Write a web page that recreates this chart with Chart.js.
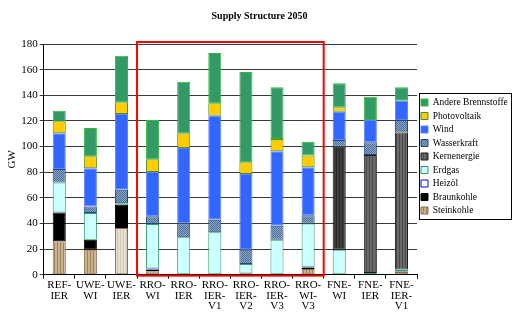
<!DOCTYPE html>
<html><head><meta charset="utf-8">
<script src="https://cdn.jsdelivr.net/npm/chart.js@4.4.1/dist/chart.umd.min.js"></script>
<style>html,body{margin:0;padding:0;background:#fff}#wrap{width:513px;height:313px}</style>
</head><body><div id="wrap"><canvas id="c" width="513" height="313"></canvas></div>
<script>
const categories = [["REF-","IER"],["UWE-","WI"],["UWE-","IER"],["RRO-","WI"],["RRO-","IER"],["RRO-","IER-","V1"],["RRO-","IER-","V2"],["RRO-","IER-","V3"],["RRO-","WI-","V3"],["FNE-","WI"],["FNE-","IER"],["FNE-","IER-","V1"]];
const steinkohle   = [26, 19.5, 36.4, 2.5, 0, 0, 0, 0, 4.4, 0, 0, 2];
const braunkohle   = [22.5, 7.8, 18.2, 1.5, 0, 0, 0.8, 0, 1.2, 0, 0, 0.4];
const heizoel      = [0, 0, 0, 0.8, 0, 0, 0, 0, 0.5, 0, 0, 0];
const erdgas       = [23.5, 20.8, 1.1, 34.7, 29.1, 33, 7.5, 27.3, 33.9, 19.5, 1.3, 1.6];
const kernenergie  = [0, 0, 0, 0, 0, 0, 0, 0, 0, 80.4, 92.1, 107];
const wasserkraft  = [10.5, 5, 10.6, 6, 10.9, 9.9, 11.2, 10.9, 6.3, 5.2, 9.9, 9.7];
const wind         = [27.8, 29.9, 59.1, 34.6, 58.9, 81.1, 59.1, 58.1, 37.5, 22.1, 17.4, 15.1];
const photovoltaik = [9.4, 9.4, 9.1, 9.9, 11.4, 9.7, 9.1, 9.6, 9.1, 3.4, 0, 0];
const andere       = [8.3, 22.1, 36.4, 30.7, 40.3, 39.3, 70.5, 40.3, 10.9, 18.7, 18.2, 10.4];
const yTicks = [0, 20, 40, 60, 80, 100, 120, 140, 160, 180];

const canvas = document.getElementById('c');
const ctx = canvas.getContext('2d');
function stripes(base, stripe, w) {
  const p = document.createElement('canvas'); p.width = w; p.height = 4;
  const g = p.getContext('2d'); g.fillStyle = base; g.fillRect(0,0,w,4);
  g.fillStyle = stripe; g.fillRect(0,0,1,4);
  return ctx.createPattern(p, 'repeat');
}
function checker(a, b) {
  const p = document.createElement('canvas'); p.width = 2; p.height = 2;
  const g = p.getContext('2d'); g.fillStyle = a; g.fillRect(0,0,2,2);
  g.fillStyle = b; g.fillRect(0,0,1,1); g.fillRect(1,1,1,1);
  return ctx.createPattern(p, 'repeat');
}
const steinPat = stripes('#c9b38e', '#9e8560', 3);
const steinLight = stripes('#e6ded0', '#d4c8b4', 3);
const kernPat = stripes('#6a6a6a', '#4a4a4a', 3);
const kernDark = stripes('#3c3c3c', '#2a2a2a', 3);
const wasserPat = checker('#8aa6c8', '#4d6d96');

const steinBg = categories.map((c,i)=> i===2 ? steinLight : steinPat);
const kernBg = categories.map((c,i)=> i===9 ? kernDark : kernPat);

const ds = (label, data, bg, border) => ({label, data, backgroundColor: bg, borderColor: border, borderWidth: 1, borderSkipped: false});

const redBox = {
  id: 'redBox',
  afterDatasetsDraw(chart) {
    const x = chart.scales.x, c = chart.ctx;
    const half = (x.getPixelForValue(1) - x.getPixelForValue(0)) / 2;
    const l = x.getPixelForValue(3) - half, r = x.getPixelForValue(8) + half;
    const t = chart.chartArea.top - 2, b = chart.chartArea.bottom + 1;
    c.save(); c.strokeStyle = '#ff0000'; c.lineWidth = 2;
    c.strokeRect(l, t, r - l, b - t); c.restore();
  },
  afterDraw(chart) {
    const hb = chart.legend.legendHitBoxes, c = chart.ctx;
    if (!hb || !hb.length) return;
    const x0 = Math.round(Math.min(...hb.map(h => h.left))) - 2;
    const y0 = Math.round(hb[0].top) - 5;
    const last = hb[hb.length - 1];
    const y1 = Math.round(last.top + last.height) + 4;
    const x1 = 511;
    c.save(); c.strokeStyle = '#000'; c.lineWidth = 1;
    c.strokeRect(x0 + 0.5, y0 + 0.5, x1 - x0, y1 - y0);
    c.restore();
  }
};

const serif = "'Liberation Serif', 'Times New Roman', serif";
new Chart(canvas, {
  type: 'bar',
  data: {
    labels: categories,
    datasets: [
      ds('Steinkohle', steinkohle, steinBg, '#8a6e4c'),
      ds('Braunkohle', braunkohle, '#000000', '#000000'),
      ds('Heizöl', heizoel, '#ffffff', '#0000ff'),
      ds('Erdgas', erdgas, '#ccffff', '#339966'),
      ds('Kernenergie', kernenergie, kernBg, '#1a1a1a'),
      ds('Wasserkraft', wasserkraft, wasserPat, '#1f4a7a'),
      ds('Wind', wind, '#3366ff', '#5c85ff'),
      ds('Photovoltaik', photovoltaik, '#ffcc00', '#4f8f1f'),
      ds('Andere Brennstoffe', andere, '#339966', '#33bb33')
    ]
  },
  options: {
    responsive: false, animation: false,
    layout: { padding: { left: 6, right: 0, top: 0, bottom: 0 } },
    datasets: { bar: { categoryPercentage: 1, barPercentage: 0.42 } },
    plugins: {
      title: { display: true, text: 'Supply Structure 2050', color: '#000', font: { family: serif, size: 10, weight: 'bold' }, padding: { top: 10, bottom: 22 } },
      legend: {
        position: 'right', reverse: true, maxWidth: 96,
        labels: { boxWidth: 7, boxHeight: 7, padding: 4, color: '#000', font: { family: serif, size: 9.5 } }
      },
      tooltip: { enabled: false }
    },
    scales: {
      x: {
        stacked: true,
        grid: { display: true, drawOnChartArea: false, drawTicks: true, tickLength: 4, color: '#000', offset: true },
        border: { color: '#000' },
        ticks: { color: '#000', maxRotation: 0, autoSkip: false, padding: 1.5, font: { family: serif, size: 11, lineHeight: 0.95 } }
      },
      y: {
        stacked: true, min: 0, max: 180,
        afterBuildTicks: (s) => { s.ticks = yTicks.map(v => ({ value: v })); },
        grid: { color: '#3a3a3a', tickLength: 4, drawTicks: true },
        border: { color: '#000' },
        ticks: { color: '#000', padding: 2, font: { family: serif, size: 11 } },
        title: { display: true, text: 'GW', color: '#000', font: { family: serif, size: 11 }, padding: 0 }
      }
    }
  },
  plugins: [redBox]
});
</script></body></html>
